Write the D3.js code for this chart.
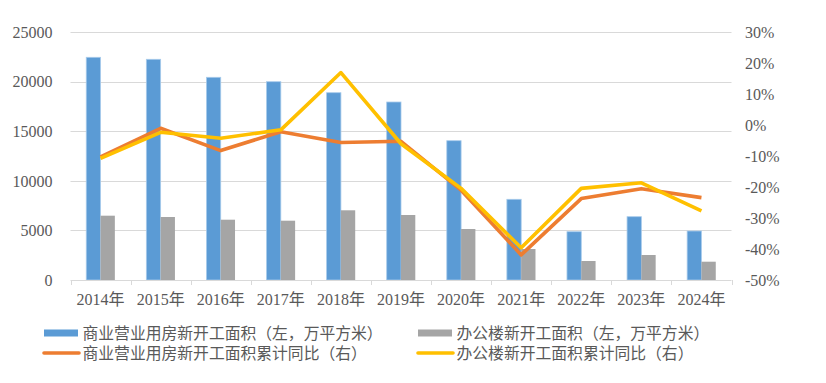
<!DOCTYPE html>
<html><head><meta charset="utf-8">
<script src="https://cdn.jsdelivr.net/npm/d3@7"></script>
<style>
html,body{margin:0;padding:0;background:#fff;}
svg{display:block;}
text{font-family:"Liberation Serif","Noto Sans CJK SC",serif;fill:#595959;}
</style></head>
<body>
<svg id="chart" width="826" height="383"></svg>
<script>
const categories = ["2014年","2015年","2016年","2017年","2018年","2019年","2020年","2021年","2022年","2023年","2024年"];
const commercialArea = [22477, 22275, 20458, 20014, 18904, 17965, 14059, 8145, 4875, 6389, 4945];
const officeArea = [6490, 6358, 6086, 5985, 7035, 6560, 5147, 3129, 1918, 2523, 1847];
const commercialYoY = [-10.2, -1.0, -8.2, -2.1, -5.6, -5.2, -21.0, -41.9, -23.7, -20.5, -23.4];
const officeYoY = [-10.7, -2.3, -4.2, -1.5, 17.0, -6.0, -20.4, -39.6, -20.4, -18.6, -27.7];
const leftTicks = [0, 5000, 10000, 15000, 20000, 25000];
const rightTicks = [-50, -40, -30, -20, -10, 0, 10, 20, 30];
const seriesNames = ["商业营业用房新开工面积（左，万平方米）","办公楼新开工面积（左，万平方米）","商业营业用房新开工面积累计同比（右）","办公楼新开工面积累计同比（右）"];
const colors = {blue:"#5B9BD5", gray:"#A5A5A5", orange:"#ED7D31", yellow:"#FFC000"};

const svg = d3.select("#chart");
const L = 70.5, R = 731.5, T = 32.3, B = 280;

const x = d3.scaleBand().domain(categories).range([L, R]).padding(0);
const yL = d3.scaleLinear().domain([0, 25000]).range([B, T]);
const yR = d3.scaleLinear().domain([-50, 30]).range([B, T]);

// gridlines
svg.append("g").selectAll("line").data(leftTicks.filter(d => d > 0)).join("line")
  .attr("x1", L).attr("x2", R)
  .attr("y1", d => Math.round(yL(d)) + 0.5).attr("y2", d => Math.round(yL(d)) + 0.5)
  .attr("stroke", "#d9d9d9").attr("stroke-width", 1);

// left axis labels
const leftAxis = d3.axisLeft(yL).tickValues(leftTicks).tickSize(0).tickPadding(0).tickFormat(d3.format("d"));
const gl = svg.append("g").attr("transform", `translate(${L - 18},0)`).call(leftAxis);
gl.select(".domain").remove();
gl.selectAll("text").style("font-size", "16px").attr("fill", "#595959");

// right axis labels
const rightAxis = d3.axisRight(yR).tickValues(rightTicks).tickSize(0).tickPadding(0).tickFormat(d => d + "%");
const gr = svg.append("g").attr("transform", `translate(${R + 13.5},0)`).call(rightAxis);
gr.select(".domain").remove();
gr.selectAll("text").style("font-size", "16px").attr("fill", "#595959");

// bars
const bw = x.bandwidth() * 0.238;
svg.append("g").selectAll("rect").data(categories).join("rect")
  .attr("x", d => x(d) + x.bandwidth() / 2 - bw)
  .attr("y", (d, i) => yL(commercialArea[i]))
  .attr("width", bw)
  .attr("height", (d, i) => B - yL(commercialArea[i]))
  .attr("fill", colors.blue).attr("stroke", "#a8cbeb").attr("stroke-width", 0.8);
svg.append("g").selectAll("rect").data(categories).join("rect")
  .attr("x", d => x(d) + x.bandwidth() / 2)
  .attr("y", (d, i) => yL(officeArea[i]))
  .attr("width", bw)
  .attr("height", (d, i) => B - yL(officeArea[i]))
  .attr("fill", colors.gray);

// bottom axis
const bottomAxis = d3.axisBottom(x).tickSize(0).tickPadding(0);
const gb = svg.append("g").attr("transform", `translate(0,${B + 0.5})`).call(bottomAxis);
gb.select(".domain").attr("stroke", "#d9d9d9").attr("d", `M${L},0H${R}`);
gb.selectAll("text").attr("dy", "24px").style("font-size", "16px").attr("fill", "#595959");
svg.append("g").selectAll("line").data(categories.concat([null])).join("line")
  .attr("x1", (d, i) => Math.round(L + i * x.bandwidth()) + 0.5)
  .attr("x2", (d, i) => Math.round(L + i * x.bandwidth()) + 0.5)
  .attr("y1", B).attr("y2", B + 5)
  .attr("stroke", "#d9d9d9");

// lines
const cx = d => x(d) + x.bandwidth() / 2;
const lineGen = vals => d3.line().x(d => cx(d)).y((d, i) => yR(vals[i]))(categories);
svg.append("path").attr("d", lineGen(commercialYoY)).attr("fill", "none")
  .attr("stroke", colors.orange).attr("stroke-width", 3.6).attr("stroke-linejoin", "round");
svg.append("path").attr("d", lineGen(officeYoY)).attr("fill", "none")
  .attr("stroke", colors.yellow).attr("stroke-width", 3.6).attr("stroke-linejoin", "round");

// legend
const legendItems = [
  {name: seriesNames[0], color: colors.blue, type: "rect", x: 44, y: 333},
  {name: seriesNames[1], color: colors.gray, type: "rect", x: 418, y: 333},
  {name: seriesNames[2], color: colors.orange, type: "line", x: 44, y: 353},
  {name: seriesNames[3], color: colors.yellow, type: "line", x: 418, y: 353}
];
const lg = svg.append("g").selectAll("g").data(legendItems).join("g")
  .attr("transform", d => `translate(${d.x},${d.y})`);
lg.filter(d => d.type === "rect").append("rect")
  .attr("x", 0).attr("y", -3.5).attr("width", 34).attr("height", 7).attr("fill", d => d.color);
lg.filter(d => d.type === "line").append("line")
  .attr("x1", 0).attr("x2", 35).attr("y1", 0).attr("y2", 0)
  .attr("stroke", d => d.color).attr("stroke-width", 3.6).attr("stroke-linecap", "round");
lg.append("text").attr("x", 38.5).attr("y", 0).attr("dy", "0.36em")
  .style("font-size", "15.8px").text(d => d.name);
</script>
</body></html>
